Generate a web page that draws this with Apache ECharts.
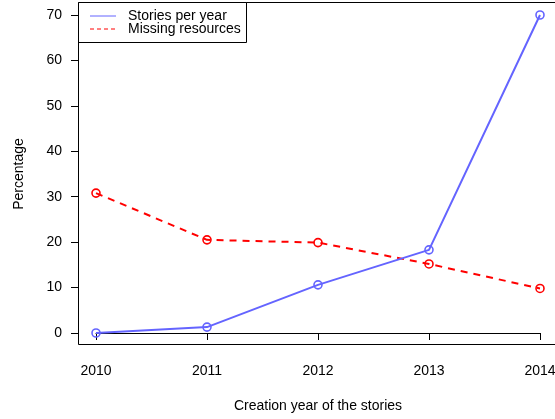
<!DOCTYPE html>
<html>
<head>
<meta charset="utf-8">
<script src="https://cdn.jsdelivr.net/npm/echarts@6/dist/echarts.min.js"></script>
<style>
  html, body { margin: 0; padding: 0; background: #fff; overflow: hidden; }
  #chart { width: 555px; height: 419px; }
</style>
</head>
<body>
<div id="chart"></div>
<script>
// Creation year of the stories
const years = [2010, 2011, 2012, 2013, 2014];
// Share of stories created per year (%)
const storiesPerYear = [0, 1.3, 10.6, 18.3, 70];
// Share of stories with missing resources (%)
const missingResources = [30.8, 20.5, 19.9, 15.2, 9.8];
const yTicks = [0, 10, 20, 30, 40, 50, 60, 70];

const seriesNames = ['Stories per year', 'Missing resources'];
const blue = '#6464ff';
const red = '#ff0000';
const font = 'Liberation Sans, Arial, Helvetica, sans-serif';

const chart = echarts.init(document.getElementById('chart'), null, { renderer: 'canvas' });

const pairs = (xs, ys) => xs.map((x, i) => [x, ys[i]]);

chart.setOption({
  animation: false,
  backgroundColor: '#ffffff',
  textStyle: { fontFamily: font },
  grid: { left: 96, right: 15, top: 15, bottom: 86, containLabel: false, outerBoundsMode: 'none' },
  xAxis: {
    type: 'value',
    min: years[0],
    max: years[years.length - 1],
    interval: 1,
    offset: 12,
    name: 'Creation year of the stories',
    nameLocation: 'middle',
    nameGap: 54,
    nameTextStyle: { color: '#000', fontSize: 14, fontFamily: font },
    axisLine: { show: true, lineStyle: { color: '#000', width: 1 } },
    axisTick: { show: true, length: 7, lineStyle: { color: '#000', width: 1 } },
    axisLabel: { color: '#000', fontSize: 14, fontFamily: font, margin: 19, formatter: v => String(v) },
    splitLine: { show: false }
  },
  yAxis: {
    type: 'value',
    min: yTicks[0],
    max: yTicks[yTicks.length - 1],
    interval: 10,
    offset: 18,
    name: 'Percentage',
    nameLocation: 'middle',
    nameGap: 52,
    nameRotate: 90,
    nameTextStyle: { color: '#000', fontSize: 14, fontFamily: font },
    axisLine: { show: true, lineStyle: { color: '#000', width: 1 } },
    axisTick: { show: true, length: 7, lineStyle: { color: '#000', width: 1 } },
    axisLabel: { color: '#000', fontSize: 14, fontFamily: font, margin: 16 },
    splitLine: { show: false }
  },
  graphic: [
    // plot frame: top, left and bottom sides (the right side falls past the canvas edge)
    {
      type: 'polyline', z: 0, silent: true,
      shape: { points: [[560, 2.5], [78.5, 2.5], [78.5, 344.5], [560, 344.5]] },
      style: { fill: 'none', stroke: '#000', lineWidth: 1 }
    },
    // legend
    {
      type: 'group', left: 78, top: 2, z: 10,
      children: [
        { type: 'rect', shape: { x: 0.5, y: 0.5, width: 168, height: 40 },
          style: { fill: '#fff', stroke: '#000', lineWidth: 1 } },
        { type: 'line', shape: { x1: 12, y1: 14, x2: 38, y2: 14 },
          style: { stroke: blue, lineWidth: 1 } },
        { type: 'line', shape: { x1: 12, y1: 27, x2: 38, y2: 27 },
          style: { stroke: red, lineWidth: 1, lineDash: [4, 3] } },
        { type: 'text', x: 50, y: 14,
          style: { text: seriesNames[0], fill: '#000', font: '14px ' + font, textVerticalAlign: 'middle' } },
        { type: 'text', x: 50, y: 27.5,
          style: { text: seriesNames[1], fill: '#000', font: '14px ' + font, textVerticalAlign: 'middle' } }
      ]
    }
  ],
  series: [
    {
      name: seriesNames[0],
      type: 'line',
      data: pairs(years, storiesPerYear),
      symbol: 'circle',
      symbolSize: 8,
      showAllSymbol: true,
      clip: false,
      lineStyle: { color: blue, width: 2 },
      itemStyle: { color: 'rgba(0,0,0,0)', borderColor: blue, borderWidth: 1.6 },
      z: 3
    },
    {
      name: seriesNames[1],
      type: 'line',
      data: pairs(years, missingResources),
      symbol: 'circle',
      symbolSize: 8,
      showAllSymbol: true,
      clip: false,
      lineStyle: { color: red, width: 2, type: [7, 6] },
      itemStyle: { color: 'rgba(0,0,0,0)', borderColor: red, borderWidth: 1.6 },
      z: 2
    }
  ]
});
</script>
</body>
</html>
